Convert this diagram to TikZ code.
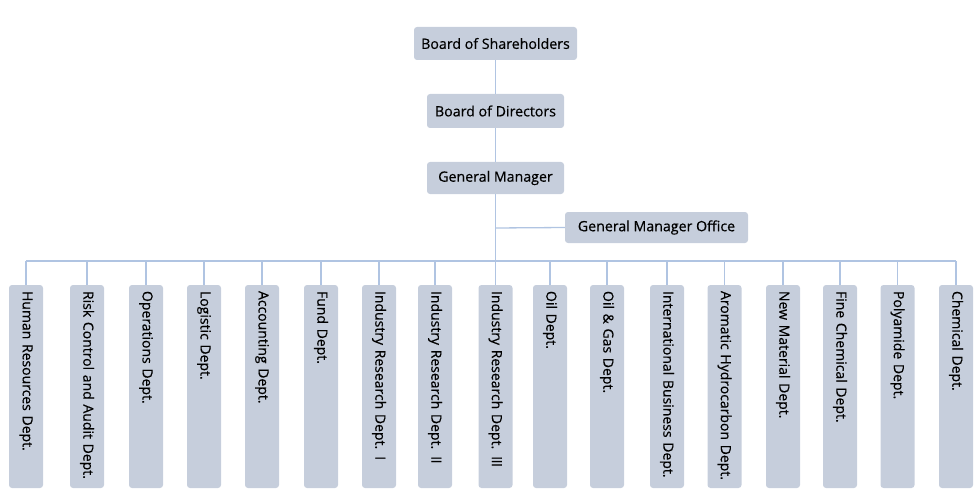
\documentclass[tikz,border=0pt]{standalone}
\usepackage{fontspec}
\setmainfont{Open Sans}
\newfontfamily\semifont{Open Sans}[FakeBold=0.45]
\definecolor{boxfill}{RGB}{198,206,220}
\definecolor{linec}{RGB}{176,196,226}
\begin{document}
\begin{tikzpicture}[x=1pt,y=-1pt,
  topbox/.style={fill=boxfill,rounded corners=3pt,inner sep=0pt,font=\semifont\fontsize{14.2}{16}\selectfont},
  deptbox/.style={fill=boxfill,rounded corners=3pt,rotate=-90,inner xsep=6pt,inner ysep=0pt,
     text width=191pt,align=left,minimum height=34pt,font=\semifont\fontsize{14}{16}\selectfont},
  conn/.style={draw=linec,line width=1.3pt}]
\useasboundingbox (0,0) rectangle (980,500);
\node[topbox,minimum width=163pt,minimum height=33pt] (bos) at (495.5,43.5) {Board of Shareholders};
\node[topbox,minimum width=137pt,minimum height=34pt] (bod) at (495.5,111) {Board of Directors};
\node[topbox,minimum width=137pt,minimum height=32pt] (gm) at (495.5,178) {General Manager};
\node[topbox,minimum width=183pt,minimum height=31pt] (gmo) at (656.5,227.5) {General Manager Office};
\coordinate (busL) at (26,261);
\coordinate (busR) at (956,261);
\coordinate (busM) at (495.5,261);
\coordinate (br) at (495.5,228);
\draw[conn] (bos) -- (bod);
\draw[conn] (bod) -- (gm);
\draw[conn] (gm) -- (busM);
\draw[conn] (br) -- (gmo.west);
\draw[conn] (busL) -- (busR);
\foreach \n/\cx/\t in {
 d1/26/{Human Resources Dept.},
 d2/87/{Risk Control and Audit Dept.},
 d3/146/{Operations Dept.},
 d4/204/{Logistic Dept.},
 d5/262/{Accounting Dept.},
 d6/321/{Fund Dept.},
 d7/379/{Industry Research Dept. I},
 d8/435/{Industry Research Dept. I\kern-0.5pt I},
 d9/495.5/{Industry Research Dept. I\kern-0.5pt I\kern-0.5pt I},
 d10/550/{Oil Dept.},
 d11/607/{Oil \& Gas Dept.},
 d12/667/{International Business Dept.},
 d13/724.5/{Aromatic Hydrocarbon Dept.},
 d14/783/{New Material Dept.},
 d15/840/{Fine Chemical Dept.},
 d16/897.5/{Polyamide Dept.},
 d17/956/{Chemical Dept.}}{
  \node[deptbox] (\n) at (\cx,386.5) {\mbox{\t}};
  \coordinate (\n top) at (\cx,261);
  \draw[conn] (\n top) -- (\n.west);
}
\end{tikzpicture}
\end{document}
